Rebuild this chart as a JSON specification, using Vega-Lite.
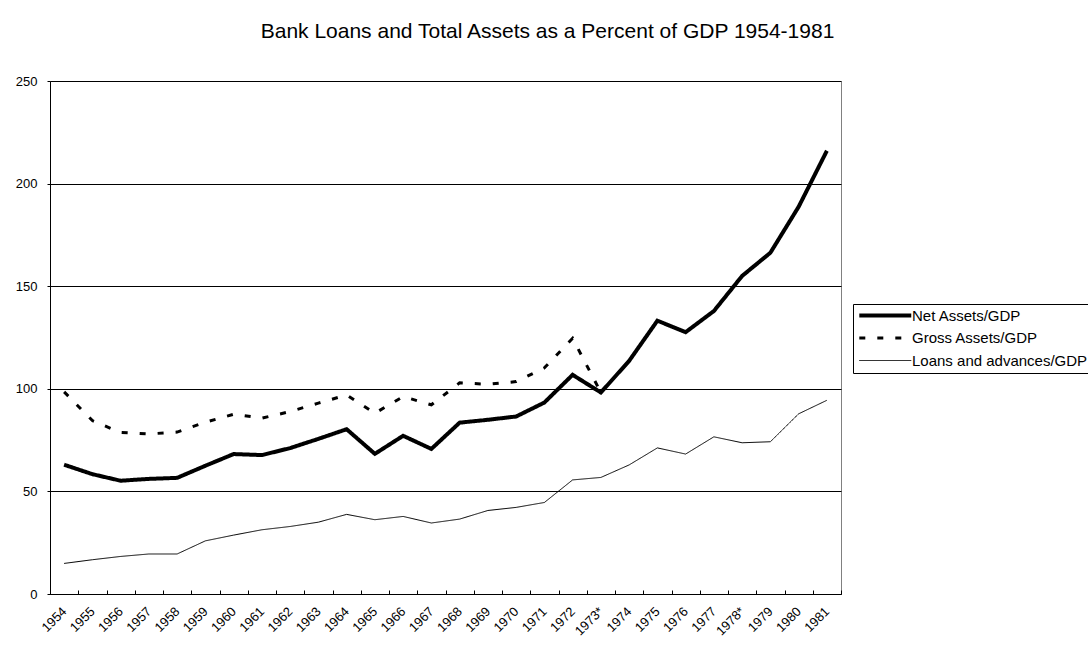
{
  "$schema": "https://vega.github.io/schema/vega-lite/v6.json",
  "width": 791,
  "height": 513,
  "autosize": "none",
  "padding": {"left": 50, "top": 81, "right": 247, "bottom": 52},
  "background": "white",
  "title": {
    "text": "Bank Loans and Total Assets as a Percent of GDP 1954-1981",
    "font": "Liberation Sans",
    "fontSize": 21,
    "fontWeight": "normal",
    "color": "black",
    "anchor": "middle",
    "frame": "group",
    "dx": 102,
    "offset": 33
  },
  "config": {
    "view": {"stroke": "#808080", "strokeWidth": 1},
    "axis": {
      "labelFont": "Liberation Sans",
      "labelColor": "black",
      "domainColor": "black",
      "tickColor": "black",
      "title": null
    }
  },
  "data": {
    "values": [
      {"year": "1954", "series": "Net Assets/GDP", "value": 63.0},
      {"year": "1955", "series": "Net Assets/GDP", "value": 58.4},
      {"year": "1956", "series": "Net Assets/GDP", "value": 55.2},
      {"year": "1957", "series": "Net Assets/GDP", "value": 56.1},
      {"year": "1958", "series": "Net Assets/GDP", "value": 56.6},
      {"year": "1959", "series": "Net Assets/GDP", "value": 62.5},
      {"year": "1960", "series": "Net Assets/GDP", "value": 68.2},
      {"year": "1961", "series": "Net Assets/GDP", "value": 67.7},
      {"year": "1962", "series": "Net Assets/GDP", "value": 71.1},
      {"year": "1963", "series": "Net Assets/GDP", "value": 75.6},
      {"year": "1964", "series": "Net Assets/GDP", "value": 80.3},
      {"year": "1965", "series": "Net Assets/GDP", "value": 68.3},
      {"year": "1966", "series": "Net Assets/GDP", "value": 77.1},
      {"year": "1967", "series": "Net Assets/GDP", "value": 70.7},
      {"year": "1968", "series": "Net Assets/GDP", "value": 83.5},
      {"year": "1969", "series": "Net Assets/GDP", "value": 84.9},
      {"year": "1970", "series": "Net Assets/GDP", "value": 86.5},
      {"year": "1971", "series": "Net Assets/GDP", "value": 93.3},
      {"year": "1972", "series": "Net Assets/GDP", "value": 106.8},
      {"year": "1973*", "series": "Net Assets/GDP", "value": 98.2},
      {"year": "1974", "series": "Net Assets/GDP", "value": 113.6},
      {"year": "1975", "series": "Net Assets/GDP", "value": 133.2},
      {"year": "1976", "series": "Net Assets/GDP", "value": 127.6},
      {"year": "1977", "series": "Net Assets/GDP", "value": 137.9},
      {"year": "1978*", "series": "Net Assets/GDP", "value": 155.0},
      {"year": "1979", "series": "Net Assets/GDP", "value": 166.3},
      {"year": "1980", "series": "Net Assets/GDP", "value": 188.7},
      {"year": "1981", "series": "Net Assets/GDP", "value": 216.0},

      {"year": "1954", "series": "Gross Assets/GDP", "value": 98.5},
      {"year": "1955", "series": "Gross Assets/GDP", "value": 84.5},
      {"year": "1956", "series": "Gross Assets/GDP", "value": 78.7},
      {"year": "1957", "series": "Gross Assets/GDP", "value": 78.0},
      {"year": "1958", "series": "Gross Assets/GDP", "value": 78.9},
      {"year": "1959", "series": "Gross Assets/GDP", "value": 83.7},
      {"year": "1960", "series": "Gross Assets/GDP", "value": 87.6},
      {"year": "1961", "series": "Gross Assets/GDP", "value": 85.7},
      {"year": "1962", "series": "Gross Assets/GDP", "value": 88.9},
      {"year": "1963", "series": "Gross Assets/GDP", "value": 93.0},
      {"year": "1964", "series": "Gross Assets/GDP", "value": 97.0},
      {"year": "1965", "series": "Gross Assets/GDP", "value": 88.1},
      {"year": "1966", "series": "Gross Assets/GDP", "value": 96.2},
      {"year": "1967", "series": "Gross Assets/GDP", "value": 92.2},
      {"year": "1968", "series": "Gross Assets/GDP", "value": 102.9},
      {"year": "1969", "series": "Gross Assets/GDP", "value": 102.2},
      {"year": "1970", "series": "Gross Assets/GDP", "value": 103.5},
      {"year": "1971", "series": "Gross Assets/GDP", "value": 110.2},
      {"year": "1972", "series": "Gross Assets/GDP", "value": 124.6},
      {"year": "1973*", "series": "Gross Assets/GDP", "value": 98.2},

      {"year": "1954", "series": "Loans and advances/GDP", "value": 14.9},
      {"year": "1955", "series": "Loans and advances/GDP", "value": 16.7},
      {"year": "1956", "series": "Loans and advances/GDP", "value": 18.3},
      {"year": "1957", "series": "Loans and advances/GDP", "value": 19.5},
      {"year": "1958", "series": "Loans and advances/GDP", "value": 19.5},
      {"year": "1959", "series": "Loans and advances/GDP", "value": 25.9},
      {"year": "1960", "series": "Loans and advances/GDP", "value": 28.7},
      {"year": "1961", "series": "Loans and advances/GDP", "value": 31.3},
      {"year": "1962", "series": "Loans and advances/GDP", "value": 32.9},
      {"year": "1963", "series": "Loans and advances/GDP", "value": 35.0},
      {"year": "1964", "series": "Loans and advances/GDP", "value": 38.8},
      {"year": "1965", "series": "Loans and advances/GDP", "value": 36.2},
      {"year": "1966", "series": "Loans and advances/GDP", "value": 37.8},
      {"year": "1967", "series": "Loans and advances/GDP", "value": 34.6},
      {"year": "1968", "series": "Loans and advances/GDP", "value": 36.5},
      {"year": "1969", "series": "Loans and advances/GDP", "value": 40.7},
      {"year": "1970", "series": "Loans and advances/GDP", "value": 42.2},
      {"year": "1971", "series": "Loans and advances/GDP", "value": 44.6},
      {"year": "1972", "series": "Loans and advances/GDP", "value": 55.6},
      {"year": "1973*", "series": "Loans and advances/GDP", "value": 56.8},
      {"year": "1974", "series": "Loans and advances/GDP", "value": 62.9},
      {"year": "1975", "series": "Loans and advances/GDP", "value": 71.2},
      {"year": "1976", "series": "Loans and advances/GDP", "value": 68.2},
      {"year": "1977", "series": "Loans and advances/GDP", "value": 76.6},
      {"year": "1978*", "series": "Loans and advances/GDP", "value": 73.7},
      {"year": "1979", "series": "Loans and advances/GDP", "value": 74.2},
      {"year": "1980", "series": "Loans and advances/GDP", "value": 87.8},
      {"year": "1981", "series": "Loans and advances/GDP", "value": 94.4}
    ]
  },
  "mark": {"type": "line", "strokeJoin": "miter", "strokeCap": "butt"},
  "encoding": {
    "x": {
      "field": "year",
      "type": "ordinal",
      "bandPosition": 0.5,
      "scale": {"type": "band", "paddingInner": 0, "paddingOuter": 0},
      "axis": {
        "tickBand": "extent",
        "labelAngle": -45,
        "labelAlign": "right",
        "labelBaseline": "middle",
        "labelFontSize": 13,
        "labelPadding": 19,
        "labelDx": -6,
        "tickSize": -4,
        "grid": false
      }
    },
    "y": {
      "field": "value",
      "type": "quantitative",
      "scale": {"domain": [0, 250], "nice": false},
      "axis": {
        "values": [0, 50, 100, 150, 200, 250],
        "grid": true,
        "gridColor": "black",
        "gridOpacity": 1,
        "tickSize": 3,
        "labelFontSize": 13,
        "labelPadding": 10
      }
    },
    "color": {
      "field": "series",
      "type": "nominal",
      "scale": {
        "domain": ["Net Assets/GDP", "Gross Assets/GDP", "Loans and advances/GDP"],
        "range": ["black", "black", "black"]
      },
      "legend": {"title": null}
    },
    "strokeWidth": {
      "field": "series",
      "type": "nominal",
      "scale": {
        "type": "ordinal",
        "domain": ["Net Assets/GDP", "Gross Assets/GDP", "Loans and advances/GDP"],
        "range": [4, 3, 1]
      },
      "legend": {"title": null}
    },
    "strokeDash": {
      "field": "series",
      "type": "nominal",
      "scale": {
        "domain": ["Net Assets/GDP", "Gross Assets/GDP", "Loans and advances/GDP"],
        "range": [[1, 0], [6, 12], [1, 0]]
      },
      "legend": {
        "title": null,
        "orient": "none",
        "legendX": 803,
        "legendY": 223,
        "strokeColor": "black",
        "fillColor": "white",
        "padding": 4,
        "symbolType": "M-1,0H9",
        "symbolSize": 108,
        "labelFont": "Liberation Sans",
        "labelFontSize": 15,
        "labelColor": "black",
        "labelLimit": 400,
        "labelOffset": 40,
        "rowPadding": 6.5
      }
    }
  }
}
